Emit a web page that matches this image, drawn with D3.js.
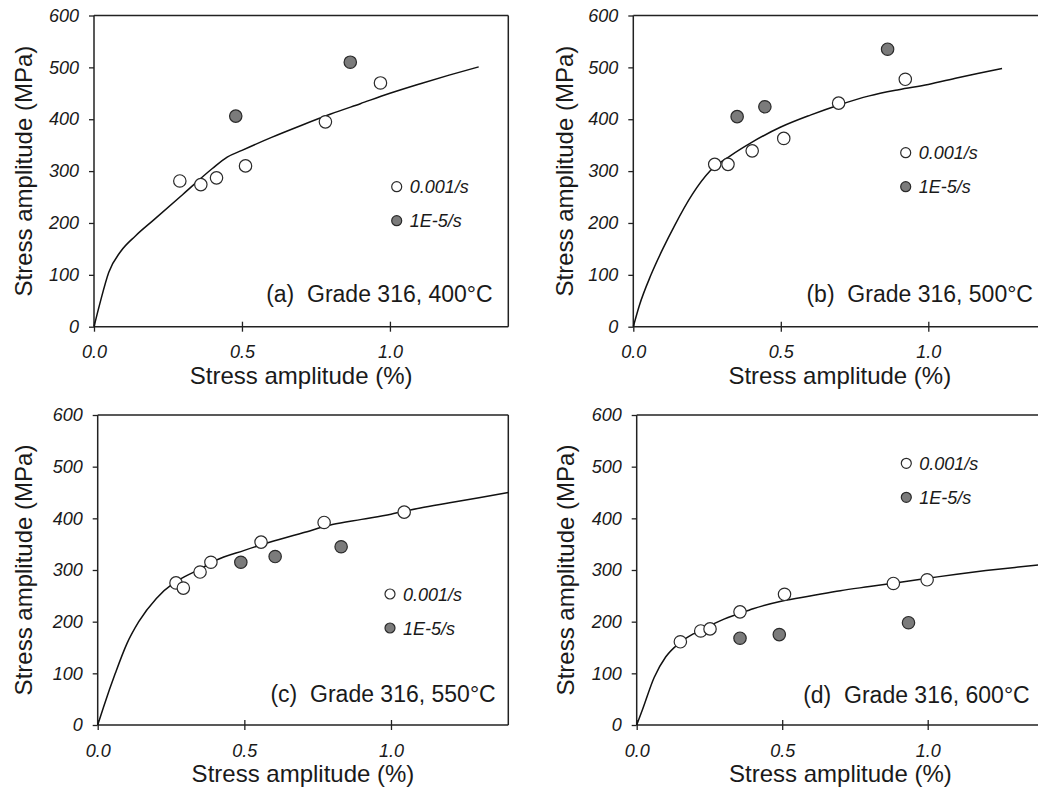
<!DOCTYPE html>
<html>
<head>
<meta charset="utf-8">
<script src="https://cdn.jsdelivr.net/npm/d3@7"></script>
<style>
  html, body { margin: 0; padding: 0; background: #fff; }
  svg text { font-family: "Liberation Sans", Arial, Helvetica, sans-serif; fill: #1a1a1a; }
</style>
</head>
<body>
<svg id="chart" width="1038" height="789"></svg>
<script>
// Axis ticks shared by all four panels
const xTicks = [0, 0.5, 1.0];
const xTickLabels = ["0.0", "0.5", "1.0"];
const yTicks = [0, 100, 200, 300, 400, 500, 600];

const seriesNames = ["0.001/s", "1E-5/s"];
const panelTitles = ["(a)  Grade 316, 400°C", "(b)  Grade 316, 500°C",
                     "(c)  Grade 316, 550°C", "(d)  Grade 316, 600°C"];

// (a) 400°C — fitted cyclic curve and test points [strain %, stress MPa]
const curveA = [[0,0],[0.02,45],[0.05,105],[0.09,145],[0.14,175],[0.2,205],[0.3,255],[0.4,305],
                [0.45,327],[0.5,340],[0.6,365],[0.7,388],[0.8,410],[0.9,430],[1.0,450],[1.1,468],[1.2,485],[1.3,501]];
const fastA = [[0.29,281],[0.361,274],[0.414,287],[0.512,310],[0.782,395],[0.968,470]];
const slowA = [[0.479,406],[0.866,510]];

// (b) 500°C
const curveB = [[0,0],[0.02,40],[0.06,100],[0.1,150],[0.14,195],[0.2,255],[0.26,300],[0.33,330],[0.4,355],
                [0.5,385],[0.6,408],[0.7,428],[0.8,445],[0.9,457],[1.0,467],[1.1,480],[1.2,492],[1.25,498]];
const fastB = [[0.276,313],[0.321,313],[0.403,339],[0.51,363],[0.696,431],[0.922,477]];
const slowB = [[0.352,405],[0.446,424],[0.862,535]];

// (c) 550°C
const curveC = [[0,0],[0.02,35],[0.06,100],[0.1,158],[0.14,200],[0.2,245],[0.26,275],[0.3,288],[0.35,302],
                [0.4,318],[0.5,338],[0.6,356],[0.7,372],[0.8,388],[0.9,398],[1.0,408],[1.1,420],[1.2,430],[1.3,440],[1.4,450]];
const fastC = [[0.267,275],[0.292,265],[0.349,296],[0.386,315],[0.557,354],[0.772,392],[1.045,412]];
const slowC = [[0.488,315],[0.605,326],[0.83,345]];

// (d) 600°C
const curveD = [[0,0],[0.02,30],[0.06,92],[0.1,132],[0.15,160],[0.2,178],[0.25,192],[0.3,205],[0.35,215],
                [0.4,225],[0.5,240],[0.6,250],[0.7,260],[0.8,268],[0.9,276],[1.0,284],[1.1,292],[1.2,299],[1.3,305],[1.4,311]];
const fastD = [[0.15,161],[0.22,182],[0.252,186],[0.355,219],[0.508,253],[0.882,274],[0.998,281]];
const slowD = [[0.355,168],[0.49,175],[0.934,198]];

// Panel frames and annotation placement (pixels, relative to each panel's plot origin)
const panels = [
  { curve: curveA, fast: fastA, slow: slowA, title: panelTitles[0],
    left: 94,    top: 15.5, width: 414.3, height: 311.2, yTitleX: 32,
    legend: [302.7, 171.2], titlePos: [398.7, 286] },
  { curve: curveB, fast: fastB, slow: slowB, title: panelTitles[1],
    left: 633.3, top: 15.5, width: 413,   height: 311.2, yTitleX: 573,
    legend: [272.4, 137.2], titlePos: [399.7, 286] },
  { curve: curveC, fast: fastC, slow: slowC, title: panelTitles[2],
    left: 97.7,  top: 415,  width: 410.6, height: 310,   yTitleX: 32,
    legend: [292.3, 179],   titlePos: [398, 286.5] },
  { curve: curveD, fast: fastD, slow: slowD, title: panelTitles[3],
    left: 636.7, top: 415,  width: 407.4, height: 310,   yTitleX: 574,
    legend: [269.6, 48.3],  titlePos: [393, 288] }
];

const ink = "#222";
const slowFill = "#7b7b7b";
const svg = d3.select("#chart");

panels.forEach(p => {
  const g = svg.append("g").attr("transform", `translate(${p.left},${p.top})`);
  const x = d3.scaleLinear().domain([0, 1.4]).range([0, p.width]);
  const y = d3.scaleLinear().domain([0, 600]).range([p.height, 0]);

  // frame: top and right edges
  g.append("line").attr("x1", 0).attr("x2", p.width).attr("y1", 0).attr("y2", 0)
    .attr("stroke", ink).attr("stroke-width", 1.5);
  g.append("line").attr("x1", p.width).attr("x2", p.width).attr("y1", 0).attr("y2", p.height)
    .attr("stroke", ink).attr("stroke-width", 1.5);

  // x axis, ticks crossing the axis line
  const xAxis = g.append("g").attr("transform", `translate(0,${p.height})`)
    .call(d3.axisBottom(x).tickValues(xTicks).tickFormat((d, i) => xTickLabels[i]).tickSize(5).tickPadding(14));
  xAxis.selectAll(".tick line").attr("y1", -5).attr("y2", 5).attr("stroke", ink).attr("stroke-width", 1.3);
  xAxis.selectAll(".tick text").attr("font-size", 18).attr("font-style", "italic")
    .attr("font-family", "Liberation Sans, Arial, sans-serif").attr("fill", "#1a1a1a");

  // y axis
  const yAxis = g.append("g")
    .call(d3.axisLeft(y).tickValues(yTicks).tickFormat(d3.format("d")).tickSize(5).tickPadding(10));
  yAxis.selectAll(".tick line").attr("stroke", ink).attr("stroke-width", 1.3);
  yAxis.selectAll(".tick text").attr("font-size", 18).attr("font-style", "italic")
    .attr("font-family", "Liberation Sans, Arial, sans-serif").attr("fill", "#1a1a1a");

  // plain axis lines without the end caps of the default domain path
  g.selectAll(".domain").remove();
  xAxis.append("line").attr("x1", 0).attr("x2", p.width).attr("stroke", ink).attr("stroke-width", 1.5);
  yAxis.append("line").attr("y1", 0).attr("y2", p.height).attr("stroke", ink).attr("stroke-width", 1.5);

  // axis titles
  g.append("text").attr("x", x(0.7)).attr("y", p.height + 57)
    .attr("text-anchor", "middle").attr("font-size", 24)
    .text("Stress amplitude (%)");
  svg.append("text")
    .attr("transform", `translate(${p.yTitleX},${p.top + p.height / 2}) rotate(-90)`)
    .attr("text-anchor", "middle").attr("font-size", 24)
    .text("Stress amplitude (MPa)");

  // fitted curve
  const line = d3.line().x(d => x(d[0])).y(d => y(d[1])).curve(d3.curveMonotoneX);
  g.append("path").datum(p.curve).attr("d", line)
    .attr("fill", "none").attr("stroke", "#111").attr("stroke-width", 1.5);

  // test points
  g.selectAll("circle.slow").data(p.slow).join("circle").attr("class", "slow")
    .attr("cx", d => x(d[0])).attr("cy", d => y(d[1])).attr("r", 6.2)
    .attr("fill", slowFill).attr("stroke", "#2a2a2a").attr("stroke-width", 1.2);
  g.selectAll("circle.fast").data(p.fast).join("circle").attr("class", "fast")
    .attr("cx", d => x(d[0])).attr("cy", d => y(d[1])).attr("r", 6.2)
    .attr("fill", "#fff").attr("stroke", "#2a2a2a").attr("stroke-width", 1.2);

  // legend
  const lg = g.append("g").attr("transform", `translate(${p.legend[0]},${p.legend[1]})`);
  seriesNames.forEach((name, i) => {
    lg.append("circle").attr("cx", 0).attr("cy", i * 34).attr("r", 5)
      .attr("fill", i === 0 ? "#fff" : slowFill).attr("stroke", "#2a2a2a").attr("stroke-width", 1.2);
    lg.append("text").attr("x", 13).attr("y", i * 34 + 6.5)
      .attr("font-size", 18).attr("font-style", "italic").text(name);
  });

  // panel title
  g.append("text").attr("x", p.titlePos[0]).attr("y", p.titlePos[1])
    .attr("text-anchor", "end").attr("font-size", 23)
    .style("white-space", "pre").text(p.title);
});
</script>
</body>
</html>
